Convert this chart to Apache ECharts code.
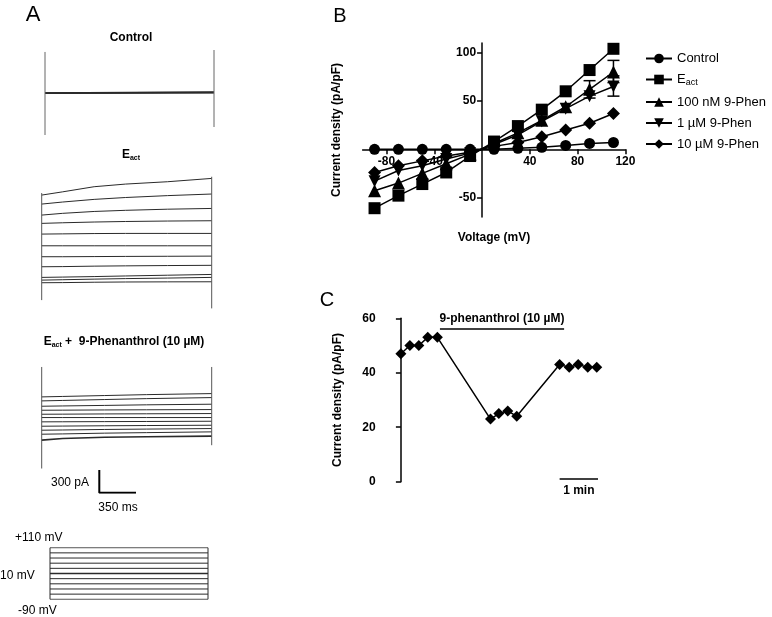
<!DOCTYPE html>
<html>
<head>
<meta charset="utf-8">
<script src="https://cdn.jsdelivr.net/npm/echarts@6/dist/echarts.min.js"></script>
<style>
  html, body { margin: 0; padding: 0; background: #fff; }
  #chart { width: 772px; height: 617px; }
</style>
</head>
<body>
<div id="chart"></div>
<script>
// Panel A: whole-cell current traces (time in ms, current in pA)
const controlTimes = [0, 800, 1620];
const controlTraces = [
  [0, 3, 8],
  [0, 6, 13],
  [-3, 0, 4],
];
const controlOnset = [544, -557];
const controlOffset = [570, -451];

const eactTimes = [0, 200, 500, 800, 1200, 1620];
const eactTraces = [
  [672, 715, 783, 818, 849, 893],
  [553, 580, 615, 640, 665, 686],
  [407, 430, 455, 470, 485, 495],
  [297, 305, 315, 322, 328, 332],
  [155, 158, 162, 164, 164, 164],
  [0, 0, 0, 0, 0, 0],
  [-145, -145, -143, -141, -139, -137],
  [-278, -276, -270, -266, -262, -259],
  [-419, -415, -408, -400, -390, -380],
  [-455, -450, -442, -435, -428, -419],
  [-490, -488, -483, -480, -478, -477],
];
const eactOnset = [699, -720];
const eactOffset = [915, -830];

const phenTimes = [0, 200, 600, 1000, 1620];
const phenTraces = [
  [300, 306, 318, 330, 344],
  [247, 253, 265, 277, 291],
  [176, 180, 187, 195, 203],
  [123, 124, 127, 129, 132],
  [70, 71, 74, 76, 79],
  [26, 26, 26, 26, 26],
  [-31, -30, -28, -26, -23],
  [-89, -87, -83, -80, -76],
  [-142, -139, -132, -127, -120],
  [-195, -191, -181, -174, -164],
  [-274, -252, -236, -228, -221],
];
const phenOnset = [697, -650];
const phenOffset = [697, -341];

const scaleBarCurrent = 300; // pA
const scaleBarTime = 350; // ms

const stepDuration = 1620;
const stepVoltages = [-90, -70, -50, -30, -10, 10, 30, 50, 70, 90, 110];

// Panel B: I-V relation
const voltages = [-90, -70, -50, -30, -10, 10, 30, 50, 70, 90, 110];
const controlIV = [0, 0, 0, 0, 0, 0, 1, 2, 4, 6, 7];
const eactIV = [-61, -48, -36, -24, -7, 8, 24, 41, 60, 82, 104];
const phen100nM = [-43, -35, -25, -15, -5, 6, 17, 30, 44, 62, 80];
const phen1uM = [-33, -22, -17, -10, -4, 5, 15, 29, 42, 55, 65];
const phen10uM = [-24, -17, -12, -7, -3, 3, 7, 13, 20, 27, 37];
const err100nM = [[90, 53, 71], [110, 69, 92]];
const err1uM = [[110, 55, 76]];
const ivXTicks = [-80, -40, 40, 80, 120];
const ivYTicks = [-50, 50, 100];

// Panel C: time course (time in s)
const timeSec = [0, 14, 28, 42, 57, 140, 153, 167, 181, 248, 263, 277, 292, 306];
const densityC = [47, 50, 50, 53, 53, 23, 25, 26, 24, 43, 42, 43, 42, 42];
const drugBar = [61, 255, 56];
const minuteBar = [248, 308, 1];

const FONT = "'Liberation Sans', Arial, sans-serif";
const INK = '#000';
const TRACE = '#2a2a2a';

// grid of panel B; the axes are shifted onto the zero lines with offset
const ivGrid = { left: 362.6, top: 43, width: 262.8, height: 173.9 };
const ivXRange = [-100, 120];
const ivYRange = [-70, 110];
const xZeroShift = -ivGrid.height * (0 - ivYRange[0]) / (ivYRange[1] - ivYRange[0]);
const yZeroShift = -ivGrid.width * (0 - ivXRange[0]) / (ivXRange[1] - ivXRange[0]);

function hiddenAxis(gridIndex, min, max) {
  return { type: 'value', gridIndex, min, max, show: false };
}

function traceSeries(gridIndex, times, values, width) {
  return {
    type: 'line',
    xAxisIndex: gridIndex,
    yAxisIndex: gridIndex,
    data: times.map((t, i) => [t, values[i]]),
    showSymbol: false,
    silent: true,
    lineStyle: { color: TRACE, width: width || 1 },
  };
}

function verticalSeries(gridIndex, t, span, color) {
  return {
    type: 'line',
    xAxisIndex: gridIndex,
    yAxisIndex: gridIndex,
    data: [[t, span[0]], [t, span[1]]],
    showSymbol: false,
    silent: true,
    lineStyle: { color: color || '#555', width: 1 },
  };
}

function ivSeries(name, values, symbol, size) {
  return {
    name,
    type: 'line',
    xAxisIndex: 5,
    yAxisIndex: 5,
    data: voltages.map((v, i) => [v, values[i]]),
    symbol,
    symbolSize: size,
    itemStyle: { color: INK },
    lineStyle: { color: INK, width: 1.5 },
    z: 3,
  };
}

function errorSeries(data) {
  return {
    type: 'custom',
    xAxisIndex: 5,
    yAxisIndex: 5,
    data,
    encode: { x: 0, y: [1, 2] },
    silent: true,
    z: 4,
    renderItem(params, api) {
      const x = api.value(0);
      const lo = api.coord([x, api.value(1)]);
      const hi = api.coord([x, api.value(2)]);
      const w = 6;
      const style = { stroke: INK, lineWidth: 1.5 };
      return {
        type: 'group',
        children: [
          { type: 'line', shape: { x1: lo[0], y1: lo[1], x2: hi[0], y2: hi[1] }, style },
          { type: 'line', shape: { x1: hi[0] - w, y1: hi[1], x2: hi[0] + w, y2: hi[1] }, style },
          { type: 'line', shape: { x1: lo[0] - w, y1: lo[1], x2: lo[0] + w, y2: lo[1] }, style },
        ],
      };
    },
  };
}

function label(text, x, y, opts) {
  return {
    type: 'text',
    x,
    y,
    silent: true,
    style: Object.assign({
      text,
      font: `12px ${FONT}`,
      fill: INK,
      align: 'center',
      verticalAlign: 'middle',
    }, opts || {}),
  };
}

const subRich = {
  e: { fontFamily: FONT, fontWeight: 'bold', fontSize: 12, color: INK },
  s: { fontFamily: FONT, fontWeight: 'bold', fontSize: 7, color: INK, padding: [6, 0, 0, 0] },
  t: { fontFamily: FONT, fontWeight: 'bold', fontSize: 12, color: INK },
};

const chart = echarts.init(document.getElementById('chart'), null, { renderer: 'canvas' });

const series = [];
controlTraces.forEach((tr) => series.push(traceSeries(0, controlTimes, tr, 1.5)));
series.push(verticalSeries(0, 0, controlOnset, '#666'));
series.push(verticalSeries(0, stepDuration, controlOffset, '#666'));

eactTraces.forEach((tr) => series.push(traceSeries(1, eactTimes, tr, 1)));
series.push(verticalSeries(1, 0, eactOnset));
series.push(verticalSeries(1, stepDuration, eactOffset));

phenTraces.forEach((tr, i) => series.push(traceSeries(2, phenTimes, tr, i === phenTraces.length - 1 ? 1.6 : 1)));
series.push(verticalSeries(2, 0, phenOnset));
series.push(verticalSeries(2, stepDuration, phenOffset));

series.push({
  type: 'line',
  xAxisIndex: 3,
  yAxisIndex: 3,
  data: [[0, scaleBarCurrent], [0, 0], [scaleBarTime, 0]],
  showSymbol: false,
  silent: true,
  lineStyle: { color: INK, width: 2 },
});

stepVoltages.forEach((v) => {
  series.push({
    type: 'line',
    xAxisIndex: 4,
    yAxisIndex: 4,
    data: [[0, v], [stepDuration, v]],
    showSymbol: false,
    silent: true,
    lineStyle: { color: TRACE, width: v === 10 ? 1.6 : 1 },
  });
});
series.push(verticalSeries(4, 0, [stepVoltages[0], stepVoltages[stepVoltages.length - 1]], TRACE));
series.push(verticalSeries(4, stepDuration, [stepVoltages[0], stepVoltages[stepVoltages.length - 1]], TRACE));

series.push(ivSeries('Control', controlIV, 'circle', 11));
series.push(ivSeries('100 nM 9-Phen', phen100nM, 'triangle', 13));
series.push(ivSeries('1 µM 9-Phen', phen1uM, 'path://M0,0L10,0L5,9Z', 12));
series.push(ivSeries('10 µM 9-Phen', phen10uM, 'diamond', 13));
series.push(ivSeries('Eact', eactIV, 'rect', 12));
series.push(errorSeries(err100nM));
series.push(errorSeries(err1uM));

series.push({
  type: 'line',
  xAxisIndex: 6,
  yAxisIndex: 6,
  data: timeSec.map((t, i) => [t, densityC[i]]),
  symbol: 'diamond',
  symbolSize: 11,
  itemStyle: { color: INK },
  lineStyle: { color: INK, width: 1.5 },
  markLine: {
    silent: true,
    symbol: ['none', 'none'],
    lineStyle: { type: 'solid', color: INK, width: 1.5 },
    data: [
      [
        { coord: [drugBar[0], drugBar[2]], label: { show: true, position: 'insideMiddleTop', distance: 5, formatter: '9-phenanthrol (10 µM)', color: INK, fontFamily: FONT, fontWeight: 'bold', fontSize: 12 } },
        { coord: [drugBar[1], drugBar[2]] },
      ],
      [
        { coord: [minuteBar[0], minuteBar[2]], label: { show: true, position: 'insideMiddleBottom', distance: 6, formatter: '1 min', color: INK, fontFamily: FONT, fontWeight: 'bold', fontSize: 12 } },
        { coord: [minuteBar[1], minuteBar[2]] },
      ],
    ],
  },
});

const tickLabel = { color: INK, fontFamily: FONT, fontWeight: 'bold', fontSize: 12 };
const nameStyle = { color: INK, fontFamily: FONT, fontWeight: 'bold', fontSize: 12 };

chart.setOption({
  animation: false,
  backgroundColor: '#fff',
  grid: [
    { left: 45, top: 50, width: 169, height: 85 },
    { left: 41.7, top: 176, width: 170, height: 132.4 },
    { left: 41.7, top: 366, width: 170, height: 102.5 },
    { left: 99.3, top: 470, width: 36.7, height: 22.7 },
    { left: 50, top: 547.7, width: 158, height: 51.6 },
    ivGrid,
    { left: 381.7, top: 318.3, width: 220.8, height: 163.4 },
  ],
  xAxis: [
    hiddenAxis(0, 0, stepDuration),
    hiddenAxis(1, 0, stepDuration),
    hiddenAxis(2, 0, stepDuration),
    hiddenAxis(3, 0, scaleBarTime),
    hiddenAxis(4, 0, stepDuration),
    {
      type: 'value', gridIndex: 5, min: ivXRange[0], max: ivXRange[1], position: 'bottom', offset: xZeroShift,
      name: 'Voltage (mV)', nameLocation: 'middle', nameGap: 82, nameMoveOverlap: false, nameTextStyle: nameStyle,
      axisLine: { onZero: false, lineStyle: { color: INK, width: 1.5 } },
      axisTick: { customValues: ivXTicks, length: 5, lineStyle: { color: INK, width: 1.5 } },
      axisLabel: Object.assign({ customValues: ivXTicks, margin: 6 }, tickLabel),
      splitLine: { show: false },
    },
    hiddenAxis(6, -30, 315),
  ],
  yAxis: [
    hiddenAxis(0, -557, 570),
    hiddenAxis(1, -830, 925),
    hiddenAxis(2, -650, 710),
    hiddenAxis(3, 0, scaleBarCurrent),
    hiddenAxis(4, -90, 110),
    {
      type: 'value', gridIndex: 5, min: ivYRange[0], max: ivYRange[1], position: 'left', offset: yZeroShift,
      name: 'Current density (pA/pF)', nameLocation: 'middle', nameGap: 139, nameMoveOverlap: false, nameTextStyle: nameStyle,
      axisLine: { onZero: false, lineStyle: { color: INK, width: 1.5 } },
      axisTick: { customValues: ivYTicks, length: 5, lineStyle: { color: INK, width: 1.5 } },
      axisLabel: Object.assign({ customValues: ivYTicks, margin: 6 }, tickLabel),
      splitLine: { show: false },
    },
    {
      type: 'value', gridIndex: 6, min: 0, max: 60, interval: 20,
      name: 'Current density (pA/pF)', nameLocation: 'middle', nameGap: 38, nameTextStyle: nameStyle,
      axisLine: { show: true, lineStyle: { color: INK, width: 1.5 } },
      axisTick: { show: true, length: 5, lineStyle: { color: INK, width: 1.5 } },
      axisLabel: Object.assign({ margin: 6 }, tickLabel),
      splitLine: { show: false },
    },
  ],
  legend: {
    data: ['Control', 'Eact', '100 nM 9-Phen', '1 µM 9-Phen', '10 µM 9-Phen'],
    orient: 'vertical',
    left: 640,
    top: 47,
    itemWidth: 26,
    itemHeight: 12,
    itemGap: 8,
    selectedMode: false,
    formatter: (name) => (name === 'Eact' ? '{n|E}{s|act}' : name),
    textStyle: {
      color: INK,
      fontFamily: FONT,
      fontSize: 13,
      rich: {
        n: { fontFamily: FONT, fontSize: 13, color: INK },
        s: { fontFamily: FONT, fontSize: 9, color: INK, padding: [7, 0, 0, 0] },
      },
    },
  },
  graphic: [
    label('A', 33, 15, { font: `22px ${FONT}` }),
    label('B', 340, 16, { font: `20px ${FONT}` }),
    label('C', 327, 300, { font: `20px ${FONT}` }),
    label('Control', 131, 38, { font: `bold 12px ${FONT}` }),
    { type: 'text', x: 131, y: 155, silent: true, style: { text: '{e|E}{s|act}', rich: subRich, align: 'center', verticalAlign: 'middle' } },
    { type: 'text', x: 124, y: 342, silent: true, style: { text: '{e|E}{s|act}{t| +  9-Phenanthrol (10 µM)}', rich: subRich, align: 'center', verticalAlign: 'middle' } },
    label('300 pA', 89, 483, { align: 'right' }),
    label('350 ms', 118, 508),
    label('+110 mV', 15, 538, { align: 'left' }),
    label('10 mV', 0, 576, { align: 'left' }),
    label('-90 mV', 18, 611, { align: 'left' }),
  ],
  series,
});
</script>
</body>
</html>
